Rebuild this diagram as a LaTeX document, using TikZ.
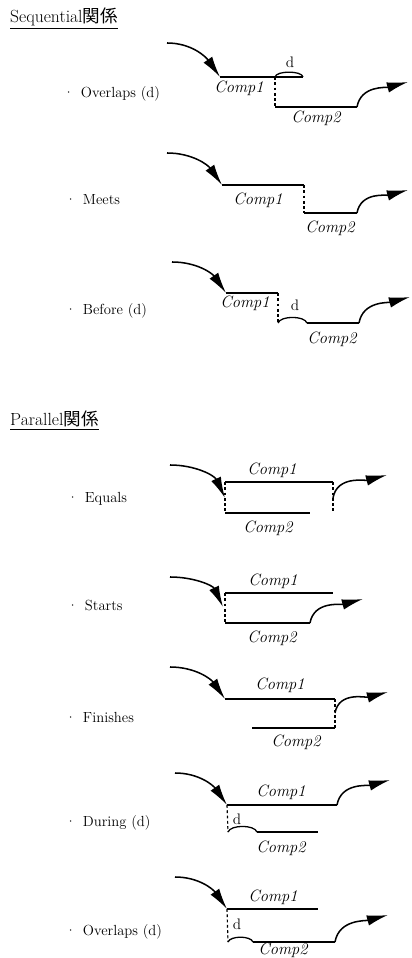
\documentclass[tikz,border=0pt]{standalone}
\usepackage{fontspec}
\newfontfamily\jpfont{Noto Sans CJK JP}
\usetikzlibrary{arrows.meta}
\begin{document}
\begin{tikzpicture}[x=0.03cm, y=0.03cm,
  comp/.style={line width=2pt},
  gapline/.style={line width=1pt, dash pattern=on 2.5pt off 2pt},
  darc/.style={line width=1.1pt},
  inarrow/.style={line width=1.3pt, -{Latex[length=18pt,width=9pt]}},
  outarrow/.style={line width=1.3pt, -{Latex[length=18pt,width=9pt]}},
  heading/.style={anchor=base west, inner sep=0pt, font=\fontsize{15}{17}\selectfont},
  relname/.style={anchor=base west, inner sep=0pt, font=\fontsize{12.5}{15}\selectfont},
  cname/.style={inner sep=0pt, font=\fontsize{14}{16}\selectfont\itshape},
  dname/.style={inner sep=0pt, font=\fontsize{13}{15}\selectfont}]
\useasboundingbox (0,0) rectangle (411,958);

\node[heading] (seqhead) at (10,935) {\underline{Sequential{\jpfont 関係}}};
\node[heading] (parhead) at (10,532) {\underline{Parallel{\jpfont 関係}}};

\node[relname] (sq1lbl) at (63,860) {·\hspace{0.45em}Overlaps (d)};
\coordinate (sq1in) at (167,915);
\coordinate (sq1a) at (220,881);
\coordinate (sq1b) at (303,881);
\coordinate (sq1c) at (275,881);
\coordinate (sq1d) at (275,851);
\coordinate (sq1e) at (357,851);
\coordinate (sq1out) at (408,876);
\node[cname] (sq1c1) at (239,870) {Comp1};
\node[cname] (sq1c2) at (316,840) {Comp2};
\node[dname] (sq1dd) at (290,896) {d};
\draw[inarrow] (sq1in) to[out=0,in=125] (sq1a);
\draw[comp] (sq1a) -- (sq1b);
\draw[darc] (sq1c) to[out=80,in=100,looseness=.6] (sq1b);
\draw[gapline] (sq1c) -- (sq1d);
\draw[comp] (sq1d) -- (sq1e);
\draw[outarrow] (sq1e) to[out=80,in=195] (sq1out);

\node[relname] (sq2lbl) at (65,753) {·\hspace{0.45em}Meets};
\coordinate (sq2in) at (167,805);
\coordinate (sq2a) at (222,773);
\coordinate (sq2b) at (304,773);
\coordinate (sq2c) at (304,745);
\coordinate (sq2d) at (357,745);
\coordinate (sq2out) at (408,768);
\node[cname] (sq2c1) at (258,758) {Comp1};
\node[cname] (sq2c2) at (330,730) {Comp2};
\draw[inarrow] (sq2in) to[out=0,in=125] (sq2a);
\draw[comp] (sq2a) -- (sq2b);
\draw[gapline] (sq2b) -- (sq2c);
\draw[comp] (sq2c) -- (sq2d);
\draw[outarrow] (sq2d) to[out=80,in=195] (sq2out);

\node[relname] (sq3lbl) at (65,643) {·\hspace{0.45em}Before (d)};
\coordinate (sq3in) at (172,696);
\coordinate (sq3a) at (226,665);
\coordinate (sq3b) at (278,665);
\coordinate (sq3c) at (278,635);
\coordinate (sq3d) at (307,635);
\coordinate (sq3e) at (359,635);
\coordinate (sq3out) at (410,661);
\node[cname] (sq3c1) at (245,655) {Comp1};
\node[cname] (sq3c2) at (332,619) {Comp2};
\node[dname] (sq3dd) at (295,653) {d};
\draw[inarrow] (sq3in) to[out=0,in=125] (sq3a);
\draw[comp] (sq3a) -- (sq3b);
\draw[gapline] (sq3b) -- (sq3c);
\draw[darc] (sq3c) to[out=70,in=110,looseness=.7] (sq3d);
\draw[comp] (sq3d) -- (sq3e);
\draw[outarrow] (sq3e) to[out=80,in=195] (sq3out);

\node[relname] (pa1lbl) at (67,455) {·\hspace{0.45em}Equals};
\coordinate (pa1in) at (170,493);
\coordinate (pa1tip) at (225,460);
\coordinate (pa1a) at (225,476);
\coordinate (pa1b) at (333,476);
\coordinate (pa1c) at (225,445);
\coordinate (pa1d) at (310,445);
\coordinate (pa1e) at (333,445);
\coordinate (pa1f) at (333,460);
\coordinate (pa1out) at (387,483);
\node[cname] (pa1c1) at (272,488) {Comp1};
\node[cname] (pa1c2) at (268,430) {Comp2};
\draw[inarrow] (pa1in) to[out=0,in=115] (pa1tip);
\draw[comp] (pa1a) -- (pa1b);
\draw[gapline] (pa1a) -- (pa1c);
\draw[comp] (pa1c) -- (pa1d);
\draw[gapline] (pa1b) -- (pa1e);
\draw[outarrow] (pa1f) to[out=80,in=195] (pa1out);

\node[relname] (pa2lbl) at (67,347) {·\hspace{0.45em}Starts};
\coordinate (pa2in) at (170,381);
\coordinate (pa2tip) at (223,351);
\coordinate (pa2a) at (225,365);
\coordinate (pa2b) at (333,365);
\coordinate (pa2c) at (225,335);
\coordinate (pa2d) at (310,335);
\coordinate (pa2out) at (363,359);
\node[cname] (pa2c1) at (273,377) {Comp1};
\node[cname] (pa2c2) at (272,320) {Comp2};
\draw[inarrow] (pa2in) to[out=0,in=115] (pa2tip);
\draw[comp] (pa2a) -- (pa2b);
\draw[gapline] (pa2a) -- (pa2c);
\draw[comp] (pa2c) -- (pa2d);
\draw[outarrow] (pa2d) to[out=80,in=195] (pa2out);

\node[relname] (pa3lbl) at (65,235) {·\hspace{0.45em}Finishes};
\coordinate (pa3in) at (170,291);
\coordinate (pa3a) at (225,259);
\coordinate (pa3b) at (335,259);
\coordinate (pa3c) at (335,230);
\coordinate (pa3d) at (252,230);
\coordinate (pa3e) at (335,245);
\coordinate (pa3out) at (388,266);
\node[cname] (pa3c1) at (280,273) {Comp1};
\node[cname] (pa3c2) at (296,216) {Comp2};
\draw[inarrow] (pa3in) to[out=0,in=125] (pa3a);
\draw[comp] (pa3a) -- (pa3b);
\draw[gapline] (pa3b) -- (pa3c);
\draw[comp] (pa3d) -- (pa3c);
\draw[outarrow] (pa3e) to[out=80,in=195] (pa3out);

\node[relname] (pa4lbl) at (65,131) {·\hspace{0.45em}During (d)};
\coordinate (pa4in) at (175,185);
\coordinate (pa4a) at (227,153);
\coordinate (pa4b) at (337,153);
\coordinate (pa4c) at (228,126);
\coordinate (pa4d) at (257,126);
\coordinate (pa4e) at (318,126);
\coordinate (pa4out) at (390,178);
\node[cname] (pa4c1) at (281,166) {Comp1};
\node[cname] (pa4c2) at (281,110) {Comp2};
\node[dname] (pa4dd) at (237,139) {d};
\draw[inarrow] (pa4in) to[out=0,in=125] (pa4a);
\draw[comp] (pa4a) -- (pa4b);
\draw[outarrow] (pa4b) to[out=80,in=195] (pa4out);
\draw[gapline] (pa4a) -- (pa4c);
\draw[darc] (pa4c) to[out=70,in=110,looseness=.7] (pa4d);
\draw[comp] (pa4d) -- (pa4e);

\node[relname] (pa5lbl) at (65,23) {·\hspace{0.45em}Overlaps (d)};
\coordinate (pa5in) at (175,81);
\coordinate (pa5a) at (227,49);
\coordinate (pa5b) at (318,49);
\coordinate (pa5c) at (228,16);
\coordinate (pa5d) at (253,16);
\coordinate (pa5e) at (335,16);
\coordinate (pa5out) at (388,43);
\node[cname] (pa5c1) at (273,61) {Comp1};
\node[cname] (pa5c2) at (283,8) {Comp2};
\node[dname] (pa5dd) at (237,34) {d};
\draw[inarrow] (pa5in) to[out=0,in=125] (pa5a);
\draw[comp] (pa5a) -- (pa5b);
\draw[gapline] (pa5a) -- (pa5c);
\draw[darc] (pa5c) to[out=70,in=110,looseness=.7] (pa5d);
\draw[comp] (pa5d) -- (pa5e);
\draw[outarrow] (pa5e) to[out=80,in=195] (pa5out);

\end{tikzpicture}
\end{document}
